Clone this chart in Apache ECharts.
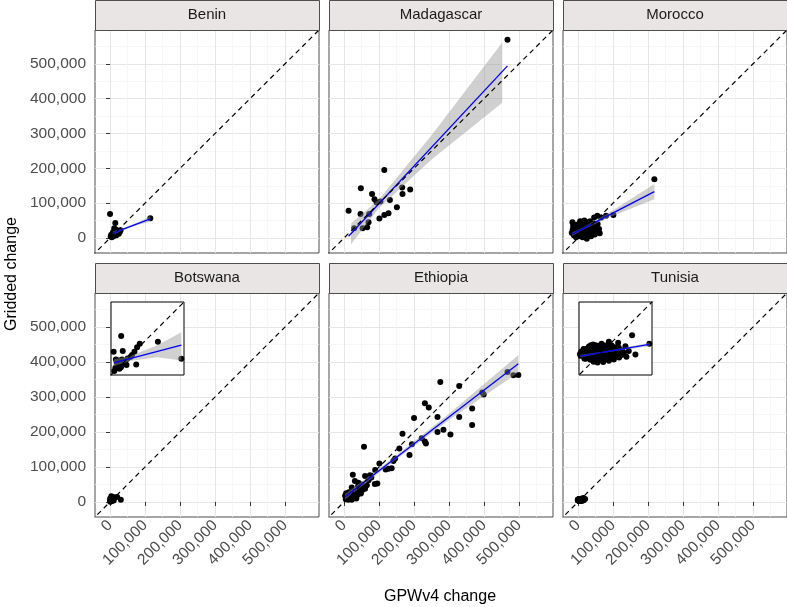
<!DOCTYPE html>
<html>
<head>
<meta charset="utf-8">
<script src="https://cdn.jsdelivr.net/npm/echarts@6/dist/echarts.min.js"></script>
<style>
html, body { margin: 0; padding: 0; background: #fff; }
#chart { width: 787px; height: 607px; }
</style>
</head>
<body>
<div id="chart"></div>
<script>
// tick labels shared by every panel
var tickVals = [0, 100000, 200000, 300000, 400000, 500000];
var minorVals = [50000, 150000, 250000, 350000, 450000, 550000];

// points [GPWv4 change, Gridded change]
var benin = [[0,69000],[115000,57000],[15000,43000],[7000,7000],[6000,11000],[8000,14000],[13000,21000],[16000,18000],[19000,22000],[22000,17000],[14000,10000],[10000,5000],[5000,2000],[17000,24000],[22000,20000],[3000,9000],[9000,17000],[25000,12000],[28000,18000],[12000,28000],[2000,4000],[18000,8000],[30000,22000]];
var madagascar = [[467000,569000],[115000,195000],[48000,143000],[13000,78000],[80000,126000],[87000,111000],[93000,102000],[104000,105000],[131000,109000],[166000,145000],[167000,126000],[189000,139000],[151000,88000],[127000,71000],[115000,66000],[101000,56000],[72000,69000],[47000,69000],[70000,45000],[66000,31000],[53000,28000],[29000,28000]];
var morocco = [[218000,169000],[101000,66000],[80000,64000],[66000,59000],[55000,64000],[46000,59000],[-16000,45000],[-18000,15000],[-15000,25000],[-12000,8000],[-10000,32000],[-8000,18000],[-5000,38000],[-3000,12000],[0,25000],[2000,5000],[3000,40000],[5000,18000],[7000,30000],[8000,10000],[10000,22000],[12000,42000],[13000,2000],[15000,15000],[16000,32000],[18000,25000],[20000,8000],[22000,38000],[24000,18000],[26000,28000],[28000,45000],[30000,12000],[32000,22000],[35000,35000],[37000,5000],[38000,28000],[40000,16000],[42000,42000],[45000,22000],[48000,10000],[50000,32000],[53000,20000],[56000,40000],[60000,26000],[62000,14000],[-6000,2000],[-14000,35000],[6000,48000],[18000,50000],[25000,-2000],[34000,48000]];
var botswana = [[3600,16600],[200,9500],[4300,9800],[12000,13100],[10800,11600],[9600,9500],[8500,8000],[7800,7100],[20200,14000],[30800,6400],[10400,3800],[4700,4100],[2500,5600],[1700,4500],[500,800],[1000,2300],[2000,3200],[3000,4800],[4000,6000],[5500,5200],[6500,6500],[2800,1800],[6000,3500],[3500,2500],[1200,6000]];
var ethiopia = [[467000,371000],[484000,362000],[498000,363000],[275000,343000],[329000,331000],[395000,313000],[399000,307000],[231000,282000],[242000,270000],[366000,267000],[200000,240000],[267000,243000],[329000,243000],[366000,220000],[284000,206000],[267000,200000],[304000,193000],[167000,195000],[222000,182000],[231000,173000],[234000,167000],[194000,165000],[158000,153000],[187000,134000],[146000,124000],[141000,117000],[127000,95000],[136000,96000],[119000,93000],[101000,110000],[89000,91000],[57000,158000],[74000,76000],[60000,74000],[25000,78000],[88000,51000],[95000,53000],[41000,55000],[31000,60000],[46000,41000],[22000,41000],[5000,8000],[8000,12000],[3000,18000],[12000,6000],[15000,15000],[18000,10000],[20000,22000],[25000,18000],[28000,28000],[30000,14000],[33000,24000],[36000,32000],[38000,20000],[42000,28000],[45000,36000],[48000,24000],[52000,34000],[10000,22000],[14000,28000],[6000,25000],[22000,6000],[35000,10000],[55000,44000],[60000,38000],[65000,48000],[70000,62000],[78000,70000],[50000,50000],[40000,45000]];
var tunisia = [[15000,11000],[10800,8700],[8000,9000],[13000,7700],[13300,4500],[16000,5200],[20200,8400],[14000,6200],[4000,8000],
  [-700,5300],[-500,4800],[-300,6100],[200,5600],[600,4700],[900,6300],[1300,5200],[1500,7000],[1800,4300],[2200,5900],[2400,3600],
  [2700,6800],[2900,4900],[3200,8200],[3400,3000],[3600,5600],[3900,7400],[4100,4200],[4400,6300],[4600,2800],[4900,5100],
  [5100,7800],[5300,3600],[5600,6000],[5800,8400],[6100,4600],[6300,2900],[6500,6900],[6800,5400],[7000,3900],[7300,7600],
  [7500,6200],[7700,4700],[8000,3300],[8200,5800],[8500,7100],[8700,4200],[9000,6500],[9200,5100],[9500,3700],[9700,7400],
  [9900,6000],[10200,4600],[10500,5500],[10800,6700],[11100,4300],[11400,5900],[11800,5000],[12000,6400],[1000,3900],[2000,7600],
  [3000,5300],[4200,4700],[5000,6600],[6000,5200],[7000,6000],[8000,4900],[9000,5600],[10000,5300],[1800,6500],[3700,6100],
  [5500,4500],[7200,5000],[600,4000],[2600,8000],[4500,7600],[6700,7900],[8800,8000],[11000,7200],[12500,5700],[400,6800]];

// fitted lines and confidence bands
var beninFitX = [8000, 115000], beninFitY = [14000, 55000];
var beninBandX = [8000, 40000, 80000, 115000];
var beninBandLo = [9000, 23500, 38000, 47000];
var beninBandHi = [19000, 29500, 45000, 63000];

var madaFitX = [13000, 467000], madaFitY = [5000, 494000];
var madaBandX = [20000, 100000, 250000, 452000];
var madaBandLo = [-18000, 86000, 225000, 388000];
var madaBandHi = [42000, 111000, 295000, 561000];

var morFitX = [-17000, 218000], morFitY = [11000, 133000];
var morBandX = [-17000, 15000, 100000, 218000];
var morBandLo = [6000, 24500, 64000, 111000];
var morBandHi = [16000, 30700, 80000, 155000];

var ethFitX = [3000, 498000], ethFitY = [15000, 395000];
var ethBandX = [3000, 130000, 300000, 498000];
var ethBandLo = [7000, 107000, 234000, 370000];
var ethBandHi = [23000, 118000, 252000, 420000];

var botFitX = [200, 30800], botFitY = [4500, 12500];
var botBandX = [200, 8000, 20000, 30800];
var botBandLo = [3000, 5400, 7000, 5600];
var botBandHi = [6000, 7700, 12400, 18300];

var tunFitX = [-600, 20200], tunFitY = [4700, 8200];
var tunBandX = [-600, 6000, 20200];
var tunBandLo = [4300, 5600, 7700];
var tunBandHi = [5100, 6000, 8700];

var diag = [[-1000000, -1000000], [1000000, 1000000]];

var panels = [
  { name: 'Benin', left: 95, top: 30, height: 223, showX: false, showY: true },
  { name: 'Madagascar', left: 329, top: 30, height: 223, showX: false, showY: false },
  { name: 'Morocco', left: 563, top: 30, height: 223, showX: false, showY: false },
  { name: 'Botswana', left: 95, top: 293, height: 224, showX: true, showY: true },
  { name: 'Ethiopia', left: 329, top: 293, height: 224, showX: true, showY: false },
  { name: 'Tunisia', left: 563, top: 293, height: 224, showX: true, showY: false }
];
var panelW = 224;
var font = 'Liberation Sans, Arial, Helvetica, sans-serif';
var hidden = 'rgba(0,0,0,0)';

function fmt(v) { return Number(v).toLocaleString('en-US'); }

var grids = [], xAxes = [], yAxes = [], series = [], graphics = [];

panels.forEach(function (p, i) {
  grids.push({
    left: p.left, top: p.top, width: panelW, height: p.height,
    show: true, borderColor: '#4d4d4d', borderWidth: 1, backgroundColor: '#fff'
  });
  // major axis (labels, ticks, major grid)
  xAxes.push({
    type: 'value', gridIndex: i, position: 'bottom', min: -43000, max: 597000,
    axisLine: { show: false },
    axisTick: { show: true, length: p.showX ? 4 : 0, customValues: tickVals,
      lineStyle: { color: p.showX ? '#333' : hidden } },
    axisLabel: { show: p.showX, customValues: tickVals, rotate: 45, margin: 6, fontSize: 15.5,
      color: '#4d4d4d', fontFamily: font, formatter: fmt },
    splitLine: { show: true, lineStyle: { color: '#e6e6e6', width: 1 } }
  });
  // minor grid
  xAxes.push({
    type: 'value', gridIndex: i, position: 'bottom', min: -43000, max: 597000,
    axisLine: { show: false }, axisLabel: { show: false },
    axisTick: { show: true, length: 0, customValues: minorVals, lineStyle: { color: hidden } },
    splitLine: { show: true, lineStyle: { color: '#f3f3f3', width: 0.7 } }
  });
  yAxes.push({
    type: 'value', gridIndex: i, position: 'left', min: -43000, max: 597000,
    axisLine: { show: false },
    axisTick: { show: true, length: p.showY ? 4 : 0, customValues: tickVals,
      lineStyle: { color: p.showY ? '#333' : hidden } },
    axisLabel: { show: p.showY, customValues: tickVals, margin: 9, fontSize: 15.5,
      color: '#4d4d4d', fontFamily: font, formatter: fmt },
    splitLine: { show: true, lineStyle: { color: '#e6e6e6', width: 1 } }
  });
  yAxes.push({
    type: 'value', gridIndex: i, position: 'left', min: -43000, max: 597000,
    axisLine: { show: false }, axisLabel: { show: false },
    axisTick: { show: true, length: 0, customValues: minorVals, lineStyle: { color: hidden } },
    splitLine: { show: true, lineStyle: { color: '#f3f3f3', width: 0.7 } }
  });
  // strip
  graphics.push({
    type: 'rect', left: p.left, top: p.top - 30, z: 20,
    shape: { width: panelW, height: 30 },
    style: { fill: '#e9e5e5', stroke: '#4d4d4d', lineWidth: 1 }
  });
  graphics.push({
    type: 'text', x: p.left + panelW / 2, y: p.top - 15, z: 21,
    style: { text: p.name, align: 'center', verticalAlign: 'middle', fontSize: 15, fontFamily: font, fill: '#1a1a1a' }
  });
});

function bandSeries(xs, lo, hi, axisIdx, z) {
  return {
    type: 'custom', xAxisIndex: axisIdx, yAxisIndex: axisIdx, z: z, silent: true,
    data: [[xs[0], lo[0]]],
    renderItem: function (params, api) {
      var pts = [];
      for (var k = 0; k < xs.length; k++) pts.push(api.coord([xs[k], hi[k]]));
      for (var j = xs.length - 1; j >= 0; j--) pts.push(api.coord([xs[j], lo[j]]));
      return { type: 'polygon', shape: { points: pts }, style: { fill: 'rgba(150,150,150,0.45)' } };
    }
  };
}
function pointSeries(data, axisIdx, z) {
  return { type: 'scatter', xAxisIndex: axisIdx, yAxisIndex: axisIdx, z: z, silent: true,
    data: data, symbolSize: 6, itemStyle: { color: '#000', opacity: 1 } };
}
function fitSeries(xs, ys, axisIdx, z) {
  return { type: 'line', xAxisIndex: axisIdx, yAxisIndex: axisIdx, z: z, silent: true,
    data: [[xs[0], ys[0]], [xs[1], ys[1]]], symbol: 'none', lineStyle: { color: '#0000ff', width: 1.3 } };
}
function diagSeries(axisIdx, z) {
  return { type: 'line', xAxisIndex: axisIdx, yAxisIndex: axisIdx, z: z, silent: true, clip: true,
    data: diag, symbol: 'none', lineStyle: { color: '#000', width: 1.2, type: [5, 4] } };
}

var panelData = [benin, madagascar, morocco, botswana, ethiopia, tunisia];
panelData.forEach(function (d, i) {
  series.push(pointSeries(d, 2 * i, 2));
});
series.push(bandSeries(beninBandX, beninBandLo, beninBandHi, 0, 3), fitSeries(beninFitX, beninFitY, 0, 4));
series.push(bandSeries(madaBandX, madaBandLo, madaBandHi, 2, 3), fitSeries(madaFitX, madaFitY, 2, 4));
series.push(bandSeries(morBandX, morBandLo, morBandHi, 4, 3), fitSeries(morFitX, morFitY, 4, 4));
series.push(bandSeries(ethBandX, ethBandLo, ethBandHi, 8, 3), fitSeries(ethFitX, ethFitY, 8, 4));
for (var i = 0; i < 6; i++) series.push(diagSeries(2 * i, 5));

// insets for Botswana and Tunisia
var insets = [
  { left: 111, top: 302, size: 73, min: -1000, max: 32000, data: botswana,
    band: [botBandX, botBandLo, botBandHi], fit: [botFitX, botFitY] },
  { left: 579, top: 302, size: 73, min: -1000, max: 21000, data: tunisia,
    band: [tunBandX, tunBandLo, tunBandHi], fit: [tunFitX, tunFitY] }
];
insets.forEach(function (s, k) {
  var gi = 6 + k;
  grids.push({ left: s.left, top: s.top, width: s.size, height: s.size, z: 6,
    show: true, borderColor: '#000', borderWidth: 1, backgroundColor: '#fff' });
  var axIdx = xAxes.length;
  var base = { type: 'value', gridIndex: gi, min: s.min, max: s.max, z: 6,
    axisLine: { show: false }, axisTick: { show: false }, axisLabel: { show: false }, splitLine: { show: false } };
  xAxes.push(Object.assign({ position: 'bottom' }, base));
  yAxes.push(Object.assign({ position: 'left' }, base));
  series.push(pointSeries(s.data, axIdx, 7));
  series.push(bandSeries(s.band[0], s.band[1], s.band[2], axIdx, 8));
  series.push(fitSeries(s.fit[0], s.fit[1], axIdx, 9));
  series.push(diagSeries(axIdx, 10));
});

graphics.push({
  type: 'text', x: 12, y: 274, rotation: Math.PI / 2,
  style: { text: 'Gridded change', align: 'center', verticalAlign: 'middle', fontSize: 16, fontFamily: font, fill: '#000' }
});
graphics.push({
  type: 'text', x: 440, y: 597,
  style: { text: 'GPWv4 change', align: 'center', verticalAlign: 'middle', fontSize: 16, fontFamily: font, fill: '#000' }
});

var chart = echarts.init(document.getElementById('chart'), null, { renderer: 'canvas' });
chart.setOption({
  animation: false,
  grid: grids,
  xAxis: xAxes,
  yAxis: yAxes,
  series: series,
  graphic: graphics
});
</script>
</body>
</html>
